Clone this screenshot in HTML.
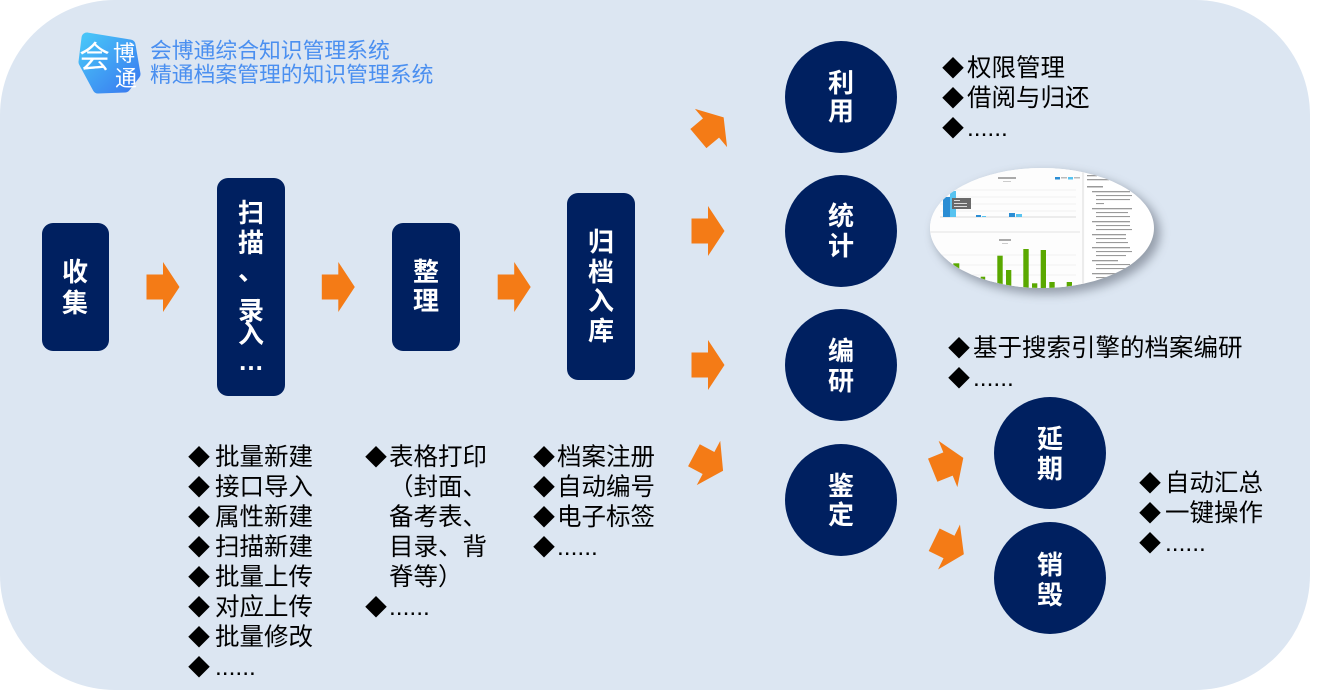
<!DOCTYPE html>
<html><head><meta charset="utf-8">
<style>
html,body{margin:0;padding:0;background:#fff;}
body{width:1327px;height:697px;position:relative;overflow:hidden;font-family:"Liberation Sans","Noto Sans CJK SC",sans-serif;}
.bg{position:absolute;left:0;top:0;width:1310px;height:690px;background:#dce6f2;border-radius:115px;}
.box{position:absolute;background:#002060;border-radius:11px;}
.circ{position:absolute;width:112px;height:112px;border-radius:50%;background:#002060;}
.ch{position:absolute;width:40px;height:30px;line-height:30px;margin-left:-20px;margin-top:-15px;text-align:center;color:#fff;font-weight:bold;font-size:26px;white-space:nowrap;}
.hd{position:absolute;left:150px;font-size:21.8px;line-height:24px;color:#4a8ff0;white-space:nowrap;}
.list{position:absolute;font-size:24.5px;line-height:30px;color:#000;white-space:nowrap;}
.list div{position:relative;height:30px;}
.bu{position:absolute;top:0;font-size:22px;}
</style></head>
<body>
<div class="bg"></div>

<svg width="1327" height="697" style="position:absolute;left:0;top:0" xmlns="http://www.w3.org/2000/svg">
<defs>
<linearGradient id="lg" x1="0" y1="0" x2="1" y2="1">
<stop offset="0" stop-color="#48c4f8"/><stop offset="1" stop-color="#3a7cf0"/>
</linearGradient>
<filter id="sh" x="-20%" y="-30%" width="140%" height="160%"><feGaussianBlur stdDeviation="5"/></filter>
<clipPath id="ec"><ellipse cx="1042" cy="228" rx="112" ry="60"/></clipPath>
</defs>
<!-- logo -->
<polygon points="87,38 130,45 135,74 125,87 98,88 84,62" fill="url(#lg)" stroke="url(#lg)" stroke-width="11" stroke-linejoin="round"/>
<!-- arrows -->
<g fill="#f47b16">
<polygon transform="translate(163,287)" points="-16.5,-12.5 0,-12.5 0,-25 16.5,0 0,25 0,12.5 -16.5,12.5"/>
<polygon transform="translate(338.3,287)" points="-16.5,-12.5 0,-12.5 0,-25 16.5,0 0,25 0,12.5 -16.5,12.5"/>
<polygon transform="translate(514.2,287)" points="-16.5,-12.5 0,-12.5 0,-25 16.5,0 0,25 0,12.5 -16.5,12.5"/>
<polygon transform="translate(711,128) rotate(-40)" points="-16.5,-12.5 0,-12.5 0,-25 16.5,0 0,25 0,12.5 -16.5,12.5"/>
<polygon transform="translate(708,231)" points="-16.5,-12.5 0,-12.5 0,-25 16.5,0 0,25 0,12.5 -16.5,12.5"/>
<polygon transform="translate(708,365)" points="-16.5,-12.5 0,-12.5 0,-25 16.5,0 0,25 0,12.5 -16.5,12.5"/>
<polygon transform="translate(708.5,463) rotate(28)" points="-16.5,-12.5 0,-12.5 0,-25 16.5,0 0,25 0,12.5 -16.5,12.5"/>
<polygon transform="translate(948,464) rotate(-22)" points="-16.5,-12.5 0,-12.5 0,-25 16.5,0 0,25 0,12.5 -16.5,12.5"/>
<polygon transform="translate(949,547) rotate(26)" points="-16.5,-12.5 0,-12.5 0,-25 16.5,0 0,25 0,12.5 -16.5,12.5"/>
</g>
<!-- chart oval -->
<ellipse cx="1047" cy="233" rx="113" ry="61" fill="#5a6270" opacity="0.55" filter="url(#sh)"/>
<ellipse cx="1042" cy="228" rx="112" ry="60" fill="#fff"/>
<g clip-path="url(#ec)">
<rect x="925" y="165" width="160" height="130" fill="#fdfdfd"/>
<g stroke="#ececec" stroke-width="0.8">
<line x1="940" y1="190" x2="1076" y2="190"/><line x1="940" y1="197" x2="1076" y2="197"/>
<line x1="940" y1="204" x2="1076" y2="204"/><line x1="940" y1="211" x2="1076" y2="211"/>
<line x1="940" y1="255" x2="1076" y2="255"/><line x1="940" y1="265" x2="1076" y2="265"/>
<line x1="940" y1="275" x2="1076" y2="275"/>
</g>
<line x1="940" y1="217" x2="1076" y2="217" stroke="#cfcfcf" stroke-width="0.8"/>
<line x1="930" y1="232" x2="1080" y2="232" stroke="#e2e2e2" stroke-width="1"/>
<line x1="1083" y1="168" x2="1083" y2="292" stroke="#dcdcdc" stroke-width="1"/>
<rect x="998" y="177" width="18" height="2" fill="#aaa"/>
<rect x="1003" y="181" width="8" height="1" fill="#ccc"/>
<rect x="1055" y="177" width="5" height="2.5" fill="#2a8dd4"/><rect x="1061" y="177" width="6" height="1.5" fill="#bbb"/>
<rect x="1068" y="177" width="5" height="2.5" fill="#58c3f0"/><rect x="1074" y="177" width="6" height="1.5" fill="#bbb"/>
<rect x="943" y="197" width="7" height="20" fill="#2a8dd4"/>
<rect x="950" y="191" width="6" height="26" fill="#58c3f0"/>
<rect x="976" y="215" width="5" height="2" fill="#2a8dd4"/>
<rect x="982" y="216" width="4" height="1" fill="#58c3f0"/>
<rect x="1009" y="213" width="6" height="4" fill="#2a8dd4"/>
<rect x="1016" y="214" width="6" height="3" fill="#58c3f0"/>
<rect x="952" y="198" width="19" height="11" fill="#6a6a6a"/>
<rect x="954" y="200" width="6" height="1" fill="#ddd"/><rect x="954" y="203" width="13" height="1" fill="#ddd"/><rect x="954" y="206" width="13" height="1" fill="#ddd"/>
<rect x="999" y="239" width="12" height="2" fill="#aaa"/><rect x="1002" y="243" width="6" height="1" fill="#ccc"/>
<g fill="#5aa800">
<rect x="953.3" y="263.3" width="6" height="40"/>
<rect x="980.7" y="276.7" width="4.5" height="30"/>
<rect x="997.3" y="255.7" width="5.4" height="40"/>
<rect x="1006" y="270" width="5.3" height="30"/>
<rect x="1023.3" y="249" width="5.4" height="50"/>
<rect x="1032" y="283.3" width="5.3" height="20"/>
<rect x="1040.7" y="250" width="5.3" height="50"/>
<rect x="1049.3" y="282" width="5.4" height="20"/>
<rect x="1066.7" y="282" width="5.3" height="20"/>
</g>
<g fill="#9a9a9a">
<rect x="1087" y="175" width="10" height="1.3"/><rect x="1087" y="179" width="22" height="1.3"/>
<rect x="1087" y="186" width="16" height="1.5"/>
<rect x="1092" y="191" width="38" height="1.3"/><rect x="1096" y="195" width="36" height="1.1"/><rect x="1096" y="199" width="34" height="1.1"/><rect x="1096" y="203" width="8" height="1.1"/>
<rect x="1092" y="208" width="40" height="1.3"/><rect x="1096" y="212" width="32" height="1.1"/><rect x="1096" y="216" width="34" height="1.1"/>
<rect x="1092" y="221" width="38" height="1.3"/><rect x="1096" y="225" width="34" height="1.1"/><rect x="1096" y="229" width="36" height="1.1"/>
<rect x="1092" y="234" width="34" height="1.3"/><rect x="1096" y="238" width="30" height="1.1"/><rect x="1096" y="242" width="32" height="1.1"/>
<rect x="1092" y="247" width="38" height="1.3"/><rect x="1096" y="251" width="36" height="1.1"/><rect x="1096" y="255" width="30" height="1.1"/>
<rect x="1092" y="260" width="26" height="1.3"/><rect x="1096" y="264" width="34" height="1.1"/><rect x="1096" y="268" width="30" height="1.1"/>
<rect x="1092" y="273" width="30" height="1.3"/><rect x="1096" y="277" width="34" height="1.1"/><rect x="1096" y="281" width="30" height="1.1"/>
<rect x="1092" y="286" width="36" height="1.3"/>
</g>
</g>
</svg>

<!-- logo text -->
<div style="position:absolute;left:79px;top:38px;font-size:31px;line-height:40px;color:#fff;">会</div>
<div style="position:absolute;left:113px;top:41px;font-size:22px;line-height:26px;color:#fff;">博</div>
<div style="position:absolute;left:115px;top:66px;font-size:22px;line-height:26px;color:#fff;">通</div>

<div class="hd" style="top:39px;">会博通综合知识管理系统</div>
<div class="hd" style="top:63px;">精通档案管理的知识管理系统</div>

<!-- boxes -->
<div class="box" style="left:42px;top:223px;width:67px;height:128px;"></div>
<div class="box" style="left:217px;top:178px;width:68px;height:218px;"></div>
<div class="box" style="left:392px;top:223px;width:68px;height:128px;"></div>
<div class="box" style="left:567px;top:193px;width:68px;height:187px;"></div>

<div class="ch" style="left:75px;top:272px;">收</div>
<div class="ch" style="left:75px;top:303px;">集</div>

<div class="ch" style="left:251px;top:213px;">扫</div>
<div class="ch" style="left:251px;top:243px;">描</div>
<div class="ch" style="left:251px;top:271px;">、</div>
<div class="ch" style="left:251px;top:311px;">录</div>
<div class="ch" style="left:251px;top:334px;">入</div>
<div class="ch" style="left:251px;top:361px;">…</div>

<div class="ch" style="left:426px;top:272px;">整</div>
<div class="ch" style="left:426px;top:301px;">理</div>

<div class="ch" style="left:601px;top:242px;">归</div>
<div class="ch" style="left:601px;top:272px;">档</div>
<div class="ch" style="left:601px;top:301px;">入</div>
<div class="ch" style="left:601px;top:331px;">库</div>

<!-- circles -->
<div class="circ" style="left:785px;top:41px;"></div>
<div class="circ" style="left:785px;top:175px;"></div>
<div class="circ" style="left:785px;top:309px;"></div>
<div class="circ" style="left:785px;top:444px;"></div>
<div class="circ" style="left:994px;top:397px;"></div>
<div class="circ" style="left:994px;top:522px;"></div>

<div class="ch" style="left:841px;top:83px;">利</div>
<div class="ch" style="left:841px;top:111px;">用</div>
<div class="ch" style="left:841px;top:216px;">统</div>
<div class="ch" style="left:841px;top:246px;">计</div>
<div class="ch" style="left:841px;top:351px;">编</div>
<div class="ch" style="left:841px;top:381px;">研</div>
<div class="ch" style="left:841px;top:486px;">鉴</div>
<div class="ch" style="left:841px;top:515px;">定</div>
<div class="ch" style="left:1050px;top:439px;">延</div>
<div class="ch" style="left:1050px;top:469px;">期</div>
<div class="ch" style="left:1050px;top:565px;">销</div>
<div class="ch" style="left:1050px;top:595px;">毁</div>

<!-- lists -->
<div class="list" style="left:215px;top:443px;">
<div><span class="bu" style="left:-27px;">◆</span>批量新建</div>
<div><span class="bu" style="left:-27px;">◆</span>接口导入</div>
<div><span class="bu" style="left:-27px;">◆</span>属性新建</div>
<div><span class="bu" style="left:-27px;">◆</span>扫描新建</div>
<div><span class="bu" style="left:-27px;">◆</span>批量上传</div>
<div><span class="bu" style="left:-27px;">◆</span>对应上传</div>
<div><span class="bu" style="left:-27px;">◆</span>批量修改</div>
<div><span class="bu" style="left:-27px;">◆</span>......</div>
</div>

<div class="list" style="left:389px;top:443px;">
<div><span class="bu" style="left:-24px;">◆</span>表格打印</div>
<div>（封面、</div>
<div>备考表、</div>
<div>目录、背</div>
<div>脊等）</div>
<div><span class="bu" style="left:-24px;">◆</span>......</div>
</div>

<div class="list" style="left:557px;top:443px;">
<div><span class="bu" style="left:-24px;">◆</span>档案注册</div>
<div><span class="bu" style="left:-24px;">◆</span>自动编号</div>
<div><span class="bu" style="left:-24px;">◆</span>电子标签</div>
<div><span class="bu" style="left:-24px;">◆</span>......</div>
</div>

<div class="list" style="left:967px;top:54px;">
<div><span class="bu" style="left:-25px;">◆</span>权限管理</div>
<div><span class="bu" style="left:-25px;">◆</span>借阅与归还</div>
<div><span class="bu" style="left:-25px;">◆</span>......</div>
</div>

<div class="list" style="left:973px;top:334px;">
<div><span class="bu" style="left:-25px;">◆</span>基于搜索引擎的档案编研</div>
<div><span class="bu" style="left:-25px;">◆</span>......</div>
</div>

<div class="list" style="left:1165px;top:469px;">
<div><span class="bu" style="left:-26px;">◆</span>自动汇总</div>
<div><span class="bu" style="left:-26px;">◆</span>一键操作</div>
<div><span class="bu" style="left:-26px;">◆</span>......</div>
</div>

</body></html>
